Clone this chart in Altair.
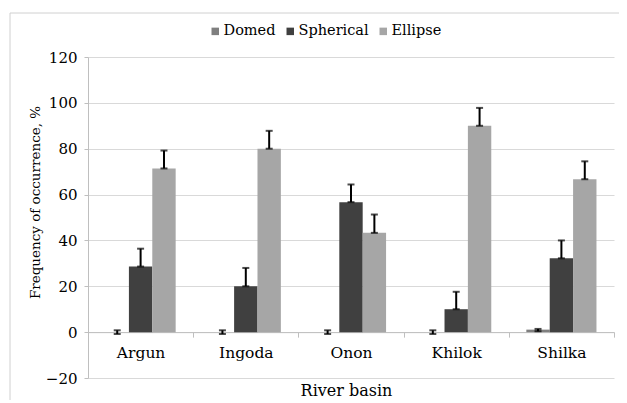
import altair as alt
import pandas as pd

basins = ["Argun", "Ingoda", "Onon", "Khilok", "Shilka"]
shapes = ["Domed", "Spherical", "Ellipse"]

domed = [0, 0, 0, 0, 1.1]
spherical = [28.6, 20.0, 56.7, 10.0, 32.2]
ellipse = [71.4, 80.0, 43.3, 90.0, 66.7]

domed_lo = [-0.8, -0.8, -0.8, -0.8, 0.4]
domed_hi = [0.8, 0.8, 0.8, 0.8, 1.4]
spherical_lo = spherical
spherical_hi = [36.4, 28.0, 64.4, 17.6, 40.0]
ellipse_lo = ellipse
ellipse_hi = [79.2, 87.8, 51.3, 97.8, 74.5]

y_ticks = [-20, 0, 20, 40, 60, 80, 100, 120]
colors = ["#7f7f7f", "#404040", "#a6a6a6"]
FONT = "DejaVu Serif"

rows = []
series = [
    ("Domed", domed, domed_lo, domed_hi),
    ("Spherical", spherical, spherical_lo, spherical_hi),
    ("Ellipse", ellipse, ellipse_lo, ellipse_hi),
]
for name, vals, los, his in series:
    for b, v, lo, hi in zip(basins, vals, los, his):
        rows.append({"basin": b, "shape": name, "value": v, "lo": lo, "hi": hi})
df = pd.DataFrame(rows)

x_enc = alt.X(
    "basin:N",
    sort=basins,
    scale=alt.Scale(paddingInner=0, paddingOuter=0),
    axis=alt.Axis(
        offset=-45.86,
        domainColor="#bfbfbf",
        tickColor="#bfbfbf",
        tickSize=5,
        tickBand="extent",
        labelAngle=0,
        labelFontSize=15.5,
        labelColor="black",
        labelPadding=20,
        labelBaseline="alphabetic",
        title="River basin",
        titleFontSize=16,
        titleFontWeight="normal",
        titleColor="black",
        titleX=258,
        titleY=63,
        titleAlign="center",
        titleBaseline="alphabetic",
        grid=False,
    ),
)
xoff_enc = alt.XOffset(
    "shape:N", sort=shapes, scale=alt.Scale(paddingInner=0, paddingOuter=0.75)
)
y_scale = alt.Scale(domain=[-20, 120], nice=False, zero=False)

bars = alt.Chart(df).mark_bar().encode(
    x=x_enc,
    xOffset=xoff_enc,
    y=alt.Y(
        "value:Q",
        scale=y_scale,
        axis=alt.Axis(
            values=y_ticks,
            grid=True,
            gridColor="#d9d9d9",
            gridWidth=1,
            domainColor="#bfbfbf",
            tickColor="#bfbfbf",
            tickSize=4,
            labelPadding=7,
            labelFontSize=15,
            labelColor="black",
            title="Frequency of occurrence, %",
            titleFontSize=13.5,
            titleFontWeight="normal",
            titleColor="black",
            titleAngle=270,
            titleX=-53,
            titleY=145,
            titleAlign="center",
            titleBaseline="middle",
        ),
    ),
    color=alt.Color(
        "shape:N",
        sort=shapes,
        scale=alt.Scale(domain=shapes, range=colors),
        legend=alt.Legend(
            orient="none",
            legendX=120,
            legendY=-33,
            direction="horizontal",
            title=None,
            symbolType="square",
            symbolSize=56,
            symbolStrokeWidth=0,
            labelFontSize=14.5,
            labelColor="black",
            labelOffset=1,
            columnPadding=7,
            padding=0,
        ),
    ),
)

rules = alt.Chart(df).mark_rule(color="black", strokeWidth=2).encode(
    x=alt.X("basin:N", sort=basins),
    xOffset=alt.XOffset("shape:N", sort=shapes),
    y=alt.Y("lo:Q", scale=y_scale),
    y2="hi:Q",
)
caps_lo = alt.Chart(df).mark_tick(color="black", thickness=2, size=7).encode(
    x=alt.X("basin:N", sort=basins),
    xOffset=alt.XOffset("shape:N", sort=shapes),
    y=alt.Y("lo:Q", scale=y_scale),
)
caps_hi = alt.Chart(df).mark_tick(color="black", thickness=2, size=7).encode(
    x=alt.X("basin:N", sort=basins),
    xOffset=alt.XOffset("shape:N", sort=shapes),
    y=alt.Y("hi:Q", scale=y_scale),
)

border = alt.Chart(alt.Data(values=[{}])).mark_rect(
    fillOpacity=0, stroke="#d0d0d0", strokeWidth=1
).encode(
    x=alt.value(-78), x2=alt.value(560), y=alt.value(-44), y2=alt.value(400)
)

chart = (
    alt.layer(border, bars, rules, caps_lo, caps_hi)
    .properties(
        width=526,
        height=321,
        autosize=alt.AutoSizeParams(type="none"),
        padding={"left": 80, "top": 49, "right": 5, "bottom": 22},
        background="white",
    )
    .configure(font=FONT)
    .configure_view(strokeWidth=0)
)

chart.save("out.html", embed_options={"renderer": "svg", "actions": False})
